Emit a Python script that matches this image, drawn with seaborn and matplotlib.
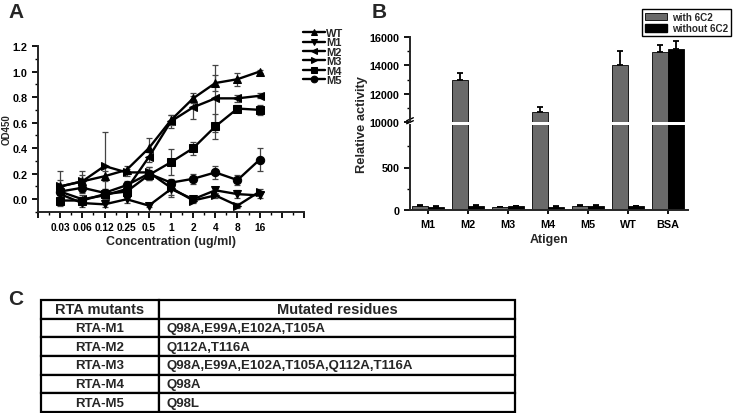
import matplotlib
matplotlib.use("Agg")
import matplotlib.pyplot as plt
import numpy as np
import pandas as pd
import seaborn as sns
from matplotlib.patches import Patch
from matplotlib.table import Table

# ---- Panel A data: OD450 vs antibody concentration ----
conc_labels = ["0.03", "0.06", "0.12", "0.25", "0.5", "1", "2", "4", "8", "16"]
mutants = ["WT", "M1", "M2", "M3", "M4", "M5"]
od_wt = [0.10, 0.14, 0.18, 0.23, 0.40, 0.62, 0.79, 0.91, 0.94, 1.00]
od_m1 = [0.04, -0.03, -0.04, 0.00, -0.05, 0.08, 0.00, 0.07, 0.04, 0.03]
od_m2 = [0.06, 0.00, 0.03, 0.08, 0.33, 0.61, 0.72, 0.79, 0.79, 0.81]
od_m3 = [0.10, 0.14, 0.26, 0.21, 0.21, 0.09, -0.01, 0.03, -0.05, 0.06]
od_m4 = [-0.01, -0.01, 0.04, 0.06, 0.19, 0.29, 0.40, 0.57, 0.71, 0.70]
od_m5 = [0.06, 0.09, 0.05, 0.11, 0.20, 0.13, 0.16, 0.21, 0.15, 0.31]
err_wt = [0.05, 0.05, 0.04, 0.03, 0.08, 0.04, 0.04, 0.06, 0.05, 0.01]
err_m1 = [0.03, 0.03, 0.02, 0.03, 0.01, 0.05, 0.02, 0.02, 0.03, 0.02]
err_m2 = [0.03, 0.03, 0.03, 0.03, 0.04, 0.05, 0.09, 0.26, 0.03, 0.02]
err_m3 = [0.12, 0.08, 0.27, 0.03, 0.04, 0.07, 0.02, 0.02, 0.02, 0.02]
err_m4 = [0.04, 0.03, 0.04, 0.04, 0.04, 0.10, 0.05, 0.10, 0.03, 0.04]
err_m5 = [0.04, 0.04, 0.03, 0.03, 0.05, 0.02, 0.04, 0.05, 0.04, 0.09]

# ---- Panel B data: relative activity per antigen ----
antigens = ["M1", "M2", "M3", "M4", "M5", "WT", "BSA"]
conditions = ["with 6C2", "without 6C2"]
act_with = [45, 13000, 35, 10700, 45, 14050, 14950]
act_without = [40, 45, 42, 40, 48, 42, 15150]
act_with_err = [8, 450, 6, 380, 15, 950, 480]
act_without_err = [5, 8, 7, 8, 6, 6, 600]

# ---- Panel C data: table ----
rta_names = ["RTA-M1", "RTA-M2", "RTA-M3", "RTA-M4", "RTA-M5"]
residues = ["Q98A,E99A,E102A,T105A", "Q112A,T116A",
            "Q98A,E99A,E102A,T105A,Q112A,T116A", "Q98A", "Q98L"]

sns.set_style("ticks")
plt.rcParams["font.family"] = ["Liberation Sans", "DejaVu Sans"]
plt.rcParams["font.weight"] = "bold"
plt.rcParams["axes.labelweight"] = "bold"
plt.rcParams["axes.linewidth"] = 1.4
for ax_name in ("xtick", "ytick"):
    plt.rcParams[f"{ax_name}.major.width"] = 1.3
    plt.rcParams[f"{ax_name}.minor.width"] = 1.0
    plt.rcParams[f"{ax_name}.major.size"] = 4
    plt.rcParams[f"{ax_name}.minor.size"] = 2.5
    plt.rcParams[f"{ax_name}.direction"] = "out"
    plt.rcParams[f"{ax_name}.color"] = "black"
    plt.rcParams[f"{ax_name}.labelsize"] = 7.8

W, H = 745, 414
fig = plt.figure(figsize=(W / 100, H / 100), dpi=100)


def fbox(x0, y0, x1, y1):
    return [x0 / W, 1 - y1 / H, (x1 - x0) / W, (y1 - y0) / H]


# ---------------- Panel A ----------------
ax_a = fig.add_axes(fbox(38, 47, 304, 213))
od = {"WT": od_wt, "M1": od_m1, "M2": od_m2, "M3": od_m3, "M4": od_m4, "M5": od_m5}
err = {"WT": err_wt, "M1": err_m1, "M2": err_m2, "M3": err_m3, "M4": err_m4, "M5": err_m5}
df_a = pd.DataFrame(
    [(m, i, od[m][i], err[m][i]) for m in mutants for i in range(len(conc_labels))],
    columns=["mutant", "pos", "od", "err"],
)
markers = {"WT": "^", "M1": "v", "M2": "<", "M3": ">", "M4": "s", "M5": "o"}

for m in mutants:
    sub = df_a[df_a["mutant"] == m]
    ax_a.errorbar(sub["pos"], sub["od"], yerr=sub["err"], fmt="none",
                  ecolor="#444444", elinewidth=0.9, capsize=2, capthick=0.9, zorder=1)

sns.lineplot(data=df_a, x="pos", y="od", hue="mutant", style="mutant",
             markers=markers, dashes=False, palette={m: "black" for m in mutants},
             markersize=6, linewidth=1.7, markeredgecolor="black",
             ax=ax_a, zorder=3)

h, l = ax_a.get_legend_handles_labels()
ax_a.legend(h, l, loc="upper left", bbox_to_anchor=(0.98, 1.135), frameon=False,
            fontsize=8, handlelength=2.0, handletextpad=0.1, labelspacing=-0.05,
            borderaxespad=0.0, markerscale=0.8)

ax_a.set_xlim(-1, 11)
ax_a.set_ylim(-0.1, 1.2)
ax_a.set_xticks(range(-1, 12))
ax_a.set_xticklabels([""] + conc_labels + ["", ""])
ax_a.set_xticks(np.arange(-0.5, 11, 1.0), minor=True)
ax_a.tick_params(axis="x", labelsize=7.3)
ax_a.set_yticks(np.arange(0, 1.21, 0.2))
ax_a.set_yticklabels([f"{v:.1f}" for v in np.arange(0, 1.21, 0.2)])
ax_a.set_yticks(np.arange(-0.1, 1.21, 0.1), minor=True)
ax_a.set_xlabel("Concentration (ug/ml)", fontsize=9, labelpad=2)
ax_a.set_ylabel("OD450", fontsize=7)
ax_a.yaxis.set_label_coords(-0.1, 0.5)
sns.despine(ax=ax_a)

# ---------------- Panel B ----------------
ax_top = fig.add_axes(fbox(410, 38, 688, 123))
ax_bot = fig.add_axes(fbox(410, 126, 688, 211))
df_b = pd.DataFrame({
    "antigen": antigens * 2,
    "condition": [conditions[0]] * len(antigens) + [conditions[1]] * len(antigens),
    "value": act_with + act_without,
    "err": act_with_err + act_without_err,
})
pal = {"with 6C2": "#6a6a6a", "without 6C2": "black"}
for ax in (ax_top, ax_bot):
    sns.barplot(data=df_b, x="antigen", y="value", hue="condition", order=antigens,
                hue_order=conditions, palette=pal, errorbar=None, width=0.82,
                edgecolor="black", linewidth=0.6, ax=ax, legend=False, zorder=2)
    for k, cond in enumerate(conditions):
        sub = df_b[df_b["condition"] == cond]
        xs = np.arange(len(antigens)) + (-0.205 if k == 0 else 0.205)
        ax.errorbar(xs, sub["value"], yerr=[np.zeros(len(sub)), sub["err"]],
                    fmt="none", ecolor="black", elinewidth=1.3, capsize=2.5,
                    capthick=1.3, zorder=1)
    ax.set_xlim(-0.45, 6.5)
    ax.set_xlabel("")
    ax.set_ylabel("")

ax_top.set_ylim(10000, 16000)
ax_top.set_yticks([10000, 12000, 14000, 16000])
ax_top.set_yticks([11000, 13000, 15000], minor=True)
ax_top.set_xticks([])
ax_top.spines[["top", "right", "bottom"]].set_visible(False)

ax_bot.set_ylim(0, 1000)
ax_bot.set_yticks([0, 500])
ax_bot.set_yticks([250, 750], minor=True)
ax_bot.spines[["top", "right"]].set_visible(False)
ax_bot.tick_params(axis="x", length=3)
ax_bot.set_xlabel("Atigen", fontsize=9, labelpad=3)

# axis break marks
for dy in (0.0, 0.035):
    ax_top.plot([-0.012, 0.012], [-0.02 + dy, 0.015 + dy], transform=ax_top.transAxes,
                color="black", lw=1.0, clip_on=False)

fig.text(362 / W, 1 - 125 / H, "Relative activity", rotation=90, ha="center",
         va="center", fontsize=9.3, fontweight="bold")

fig.legend([Patch(facecolor=pal["with 6C2"], edgecolor="black", linewidth=0.6),
            Patch(facecolor="black", edgecolor="black")],
           conditions, loc="upper left", bbox_to_anchor=(642 / W, 1 - 10 / H),
           frameon=True, fancybox=False, edgecolor="black", framealpha=1,
           fontsize=7.1, handlelength=2.2, handleheight=0.8, borderpad=0.3,
           labelspacing=0.15, handletextpad=0.5, borderaxespad=0.0)

# ---------------- Panel C ----------------
ax_c = fig.add_axes(fbox(41, 301, 515, 413))
ax_c.axis("off")
tbl = Table(ax_c, bbox=[0, 0, 1, 1])
col_w = [118 / 474, 356 / 474]
n_rows = len(rta_names) + 1
row_h = 1.0 / n_rows
headers = ["RTA mutants", "Mutated residues"]
for c in range(2):
    cell = tbl.add_cell(0, c, col_w[c], row_h, text=headers[c], loc="center")
    cell.get_text().set_fontsize(10.5)
for r, (name, res) in enumerate(zip(rta_names, residues), start=1):
    tbl.add_cell(r, 0, col_w[0], row_h, text=name, loc="center")
    tbl.add_cell(r, 1, col_w[1], row_h, text=res, loc="left")
for (r, c), cell in tbl.get_celld().items():
    cell.set_linewidth(1.6)
    cell.set_edgecolor("black")
    cell.get_text().set_fontweight("bold")
    if r > 0:
        cell.get_text().set_fontsize(9.5)
    cell.PAD = 0.02
tbl.auto_set_font_size(False)
ax_c.add_table(tbl)

# panel letters
fig.text(8 / W, 1 - 3 / H, "A", fontsize=15, fontweight="bold", va="top")
fig.text(372 / W, 1 - 3 / H, "B", fontsize=15, fontweight="bold", va="top")
fig.text(8 / W, 1 - 290 / H, "C", fontsize=15, fontweight="bold", va="top")

fig.savefig("out.png", dpi=100)
print("Saved: out.png")
